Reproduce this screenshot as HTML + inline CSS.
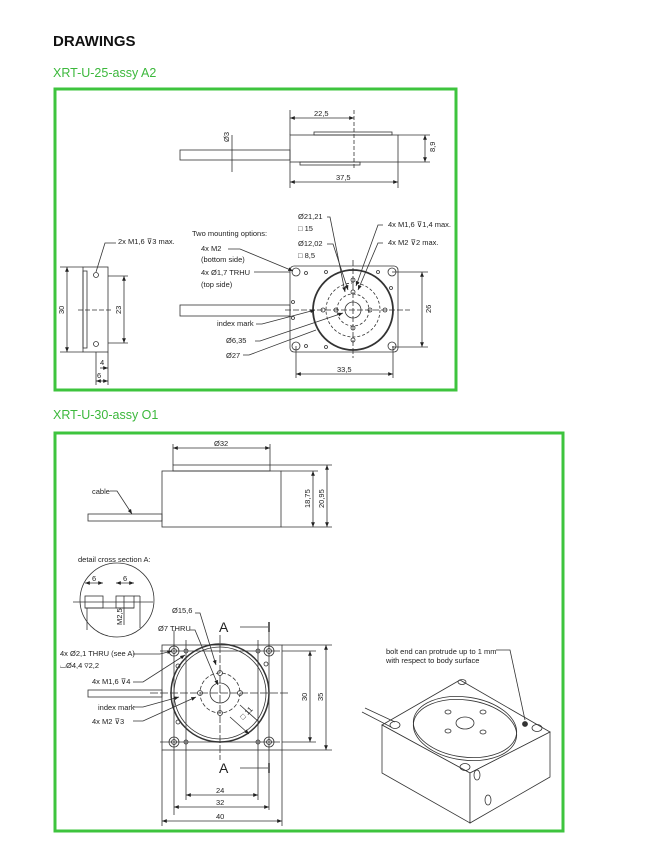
<!DOCTYPE html>
<html><head><meta charset="utf-8"><style>
html,body{margin:0;padding:0;background:#fff;}
svg{display:block;font-family:"Liberation Sans",sans-serif;}
</style></head><body>
<svg width="662" height="858" viewBox="0 0 662 858" xmlns="http://www.w3.org/2000/svg">
<defs>
<marker id="a" viewBox="0 0 10 10" refX="10" refY="5" markerWidth="6" markerHeight="6" orient="auto-start-reverse"><path d="M0,1 L10,5 L0,9z" fill="#222"/></marker>
</defs>
<text x="53" y="46" font-size="15" font-weight="bold" fill="#111">DRAWINGS</text>
<text x="53" y="77" font-size="12.5" fill="#3cb83c">XRT-U-25-assy A2</text>
<text x="53" y="419" font-size="12.5" fill="#3cb83c">XRT-U-30-assy O1</text>
<rect x="55" y="89" width="401" height="301" fill="none" stroke="#3ec43e" stroke-width="3"/>
<rect x="55" y="433" width="508" height="398" fill="none" stroke="#3ec43e" stroke-width="3"/>

<g stroke="#333" stroke-width="0.8" fill="none" font-size="7" >
<!-- Box1 top side view -->
<rect x="180" y="150" width="110" height="10"/>
<rect x="290" y="135" width="108" height="27"/>
<rect x="314" y="132" width="78" height="3"/>
<rect x="300" y="162" width="60" height="3"/>
<line x1="290" y1="118" x2="354" y2="118" marker-start="url(#a)" marker-end="url(#a)"/>
<line x1="290" y1="110" x2="290" y2="135"/><line x1="354" y1="110" x2="354" y2="170" stroke-dasharray="4 2"/>
<line x1="290" y1="182" x2="398" y2="182" marker-start="url(#a)" marker-end="url(#a)"/>
<line x1="398" y1="162" x2="398" y2="188"/><line x1="290" y1="162" x2="290" y2="188"/>
<line x1="425" y1="135" x2="425" y2="162" marker-start="url(#a)" marker-end="url(#a)"/>
<line x1="398" y1="135" x2="430" y2="135"/><line x1="398" y1="162" x2="430" y2="162"/>
<line x1="232" y1="135" x2="232" y2="172"/>
<!-- Box1 left view -->
<rect x="83" y="267" width="25" height="85"/>
<rect x="83" y="271" width="4" height="77"/>
<circle cx="96" cy="275" r="2.5"/><circle cx="96" cy="344" r="2.5"/>
<line x1="67" y1="267" x2="67" y2="352" marker-start="url(#a)" marker-end="url(#a)"/>
<line x1="60" y1="267" x2="83" y2="267"/><line x1="60" y1="352" x2="83" y2="352"/>
<line x1="124" y1="276" x2="124" y2="343" marker-start="url(#a)" marker-end="url(#a)"/>
<line x1="108" y1="276" x2="128" y2="276"/><line x1="108" y1="343" x2="128" y2="343"/>
<line x1="78" y1="310" x2="112" y2="310" stroke-dasharray="5 2"/>
<line x1="96" y1="352" x2="96" y2="385"/><line x1="108" y1="352" x2="108" y2="385"/>
<line x1="96" y1="381" x2="108" y2="381" marker-start="url(#a)" marker-end="url(#a)"/>
<line x1="100" y1="368" x2="108" y2="368" marker-end="url(#a)"/>
<polyline points="96,272 105,243 116,243"/>
<!-- Box1 front -->
<rect x="180" y="305" width="110" height="11"/>
<rect x="290" y="266" width="108" height="86" rx="4"/>
<circle cx="353" cy="310" r="40" stroke-width="1.8"/>
<circle cx="353" cy="310" r="27" stroke-dasharray="3 2"/>
<circle cx="353" cy="310" r="16" stroke-dasharray="3 2"/>
<circle cx="353" cy="310" r="8"/>
<circle cx="296" cy="272" r="4"/><circle cx="392" cy="272" r="4"/><circle cx="296" cy="346" r="4"/><circle cx="392" cy="346" r="4"/>
<circle cx="353" cy="280" r="2"/><circle cx="353" cy="292" r="2"/><circle cx="353" cy="328" r="2"/><circle cx="353" cy="340" r="2"/>
<circle cx="323" cy="310" r="2"/><circle cx="336" cy="310" r="2"/><circle cx="370" cy="310" r="2"/><circle cx="385" cy="310" r="2"/>
<circle cx="306" cy="273" r="1.5"/><circle cx="326" cy="272" r="1.5"/><circle cx="378" cy="272" r="1.5"/><circle cx="306" cy="346" r="1.5"/><circle cx="326" cy="347" r="1.5"/><circle cx="293" cy="302" r="1.5"/><circle cx="293" cy="318" r="1.5"/><circle cx="391" cy="288" r="1.5"/>
<line x1="285" y1="310" x2="410" y2="310" stroke-dasharray="6 2"/>
<line x1="353" y1="260" x2="353" y2="358" stroke-dasharray="6 2"/>
<line x1="422" y1="272" x2="422" y2="347" marker-start="url(#a)" marker-end="url(#a)"/>
<line x1="392" y1="272" x2="428" y2="272"/><line x1="392" y1="347" x2="428" y2="347"/>
<line x1="296" y1="374" x2="393" y2="374" marker-start="url(#a)" marker-end="url(#a)"/>
<line x1="296" y1="346" x2="296" y2="378"/><line x1="393" y1="346" x2="393" y2="378"/>
<polyline points="327,217 330,217 345,292" marker-end="url(#a)"/>
<polyline points="327,244 333,244 348,290" marker-end="url(#a)"/>
<polyline points="383,225 378,225 356,286" marker-end="url(#a)"/>
<polyline points="383,243 378,243 358,290" marker-end="url(#a)"/>
<polyline points="228,249 240,249 293,271" marker-end="url(#a)"/>
<line x1="254" y1="272" x2="290" y2="272"/>
<polyline points="256,324 262,324 315,310" marker-end="url(#a)"/>
<polyline points="255,341 260,341 343,313" marker-end="url(#a)"/>
<polyline points="243,355 249,355 316,330"/>

<!-- Box2 side -->
<rect x="162" y="471" width="119" height="56"/>
<rect x="173" y="465" width="97" height="6"/>
<rect x="88" y="514" width="74" height="7"/>
<line x1="173" y1="448" x2="270" y2="448" marker-start="url(#a)" marker-end="url(#a)"/>
<line x1="173" y1="444" x2="173" y2="465"/><line x1="270" y1="444" x2="270" y2="465"/>
<line x1="313" y1="471" x2="313" y2="527" marker-start="url(#a)" marker-end="url(#a)"/>
<line x1="327" y1="465" x2="327" y2="527" marker-start="url(#a)" marker-end="url(#a)"/>
<line x1="281" y1="471" x2="318" y2="471"/><line x1="270" y1="465" x2="332" y2="465"/><line x1="281" y1="527" x2="332" y2="527"/>
<polyline points="110,491 117,491 132,514" marker-end="url(#a)"/>
<!-- detail circle -->
<circle cx="117" cy="600" r="37"/>
<line x1="73" y1="602" x2="153" y2="602"/>
<rect x="85" y="596" width="18" height="12"/><rect x="116" y="596" width="18" height="12"/>
<line x1="85" y1="608" x2="134" y2="608"/><line x1="87" y1="608" x2="87" y2="630"/><line x1="134" y1="596" x2="140" y2="596"/><line x1="140" y1="596" x2="140" y2="628"/>
<line x1="85" y1="583" x2="103" y2="583" marker-start="url(#a)" marker-end="url(#a)"/>
<line x1="116" y1="583" x2="134" y2="583" marker-start="url(#a)" marker-end="url(#a)"/>
<line x1="124" y1="596" x2="124" y2="625"/>
<!-- Box2 front -->
<rect x="162" y="645" width="120" height="105"/>
<rect x="88" y="690" width="74" height="7"/>
<circle cx="220" cy="693" r="49" stroke-width="1.5"/>
<circle cx="220" cy="693" r="46"/>
<circle cx="220" cy="693" r="20" stroke-dasharray="4 2"/>
<circle cx="220" cy="693" r="10"/>
<circle cx="220" cy="673" r="2.5"/><circle cx="220" cy="713" r="2.5"/><circle cx="200" cy="693" r="2.5"/><circle cx="240" cy="693" r="2.5"/>
<circle cx="174" cy="651" r="5"/><circle cx="174" cy="651" r="2.5"/><circle cx="269" cy="651" r="5"/><circle cx="269" cy="651" r="2.5"/>
<circle cx="174" cy="742" r="5"/><circle cx="174" cy="742" r="2.5"/><circle cx="269" cy="742" r="5"/><circle cx="269" cy="742" r="2.5"/>
<circle cx="186" cy="651" r="2"/><circle cx="258" cy="651" r="2"/><circle cx="186" cy="742" r="2"/><circle cx="258" cy="742" r="2"/>
<circle cx="178" cy="666" r="2"/><circle cx="266" cy="664" r="2"/><circle cx="178" cy="722" r="2"/>
<line x1="150" y1="693" x2="290" y2="693" stroke-dasharray="8 2"/>
<line x1="220" y1="635" x2="220" y2="760" stroke-dasharray="8 2"/>
<line x1="174" y1="630" x2="174" y2="815"/><line x1="269" y1="630" x2="269" y2="810"/>
<line x1="186" y1="640" x2="186" y2="800"/><line x1="258" y1="640" x2="258" y2="800"/>
<line x1="160" y1="651" x2="280" y2="651"/><line x1="160" y1="742" x2="280" y2="742"/>
<line x1="310" y1="651" x2="310" y2="742" marker-start="url(#a)" marker-end="url(#a)"/>
<line x1="282" y1="651" x2="316" y2="651"/><line x1="282" y1="742" x2="316" y2="742"/>
<line x1="326" y1="645" x2="326" y2="750" marker-start="url(#a)" marker-end="url(#a)"/>
<line x1="282" y1="645" x2="332" y2="645"/><line x1="282" y1="750" x2="332" y2="750"/>
<line x1="186" y1="795" x2="258" y2="795" marker-start="url(#a)" marker-end="url(#a)"/>
<line x1="174" y1="807" x2="269" y2="807" marker-start="url(#a)" marker-end="url(#a)"/>
<line x1="162" y1="821" x2="282" y2="821" marker-start="url(#a)" marker-end="url(#a)"/>
<line x1="162" y1="750" x2="162" y2="826"/><line x1="282" y1="750" x2="282" y2="826"/>
<line x1="240" y1="627" x2="268" y2="627"/><line x1="240" y1="768" x2="268" y2="768"/>
<line x1="269" y1="622" x2="269" y2="632" stroke-width="1.5"/><line x1="269" y1="763" x2="269" y2="773" stroke-width="1.5"/>
<polyline points="195,613 200,613 216,665" marker-end="url(#a)"/>
<polyline points="190,630 195,630 218,685" marker-end="url(#a)"/>
<polyline points="133,654 160,654 172,651" marker-end="url(#a)"/>
<polyline points="133,682 143,682 185,655" marker-end="url(#a)"/>
<polyline points="133,707 143,707 179,697" marker-end="url(#a)"/>
<polyline points="133,721 143,721 196,697" marker-end="url(#a)"/>
<line x1="240" y1="705" x2="259" y2="722"/><line x1="230" y1="717" x2="249" y2="734" marker-end="url(#a)"/>

<!-- Photo -->
<polygon points="382,725 460,680 550,732 470,773" fill="#fff"/>
<polygon points="382,725 470,773 470,823 382,773" fill="#fff"/>
<polygon points="470,773 550,732 550,777 470,823" fill="#fff"/>
<ellipse cx="465" cy="727" rx="52" ry="30" transform="rotate(8 465 727)"/>
<ellipse cx="465" cy="730" rx="52" ry="30" transform="rotate(8 465 730)"/>
<ellipse cx="465" cy="723" rx="9" ry="6"/>
<ellipse cx="448" cy="712" rx="3" ry="2"/><ellipse cx="483" cy="712" rx="3" ry="2"/><ellipse cx="448" cy="731" rx="3" ry="2"/><ellipse cx="483" cy="732" rx="3" ry="2"/>
<ellipse cx="395" cy="725" rx="5" ry="3.5"/><ellipse cx="465" cy="767" rx="5" ry="3.5"/><ellipse cx="537" cy="728" rx="5" ry="3.5"/><ellipse cx="462" cy="682" rx="4" ry="2.5"/>
<ellipse cx="477" cy="775" rx="3" ry="5"/><ellipse cx="488" cy="800" rx="3" ry="5"/>
<line x1="365" y1="708" x2="395" y2="722"/><line x1="362" y1="712" x2="391" y2="727"/>
<polyline points="496,650 510,650 525,720"/>
<circle cx="525" cy="724" r="2.5" fill="#333"/>
</g>

<g font-size="7.5" fill="#222">
<text x="314" y="116">22,5</text><text x="336" y="180">37,5</text>
<text x="229" y="142" transform="rotate(-90 229 142)">Ø3</text>
<text x="435" y="152" transform="rotate(-90 435 152)">8,9</text>
<text x="64" y="314" transform="rotate(-90 64 314)">30</text>
<text x="121" y="314" transform="rotate(-90 121 314)">23</text>
<text x="100" y="365">4</text><text x="97" y="378">6</text>
<text x="118" y="244">2x  M1,6  ⊽3 max.</text>
<text x="192" y="236">Two mounting options:</text>
<text x="201" y="251">4x  M2</text><text x="201" y="262">(bottom side)</text>
<text x="201" y="275">4x  Ø1,7  TRHU</text><text x="201" y="287">(top side)</text>
<text x="217" y="326">index mark</text>
<text x="226" y="343">Ø6,35</text><text x="226" y="358">Ø27</text>
<text x="298" y="219">Ø21,21</text><text x="298" y="231">□ 15</text>
<text x="298" y="246">Ø12,02</text><text x="298" y="258">□ 8,5</text>
<text x="388" y="227">4x  M1,6  ⊽1,4 max.</text>
<text x="388" y="245">4x  M2  ⊽2 max.</text>
<text x="431" y="313" transform="rotate(-90 431 313)">26</text>
<text x="337" y="372">33,5</text>
<text x="214" y="446">Ø32</text>
<text x="92" y="494">cable</text>
<text x="310" y="508" transform="rotate(-90 310 508)">18,75</text>
<text x="324" y="508" transform="rotate(-90 324 508)">20,95</text>
<text x="78" y="562">detail cross section A:</text>
<text x="92" y="581">6</text><text x="123" y="581">6</text>
<text x="122" y="625" transform="rotate(-90 122 625)">M2,5</text>
<text x="172" y="613">Ø15,6</text><text x="158" y="631">Ø7  THRU</text>
<text x="60" y="656">4x  Ø2,1  THRU (see A)</text>
<text x="60" y="668">⌴Ø4,4 ⊽2,2</text>
<text x="92" y="684">4x  M1,6  ⊽4</text>
<text x="98" y="710">index mark</text>
<text x="92" y="724">4x  M2  ⊽3</text>
<text x="307" y="701" transform="rotate(-90 307 701)">30</text>
<text x="323" y="701" transform="rotate(-90 323 701)">35</text>
<text x="216" y="793">24</text><text x="216" y="805">32</text><text x="216" y="819">40</text>
<text x="243" y="720" transform="rotate(-45 243 720)">□ 11</text>
<text x="386" y="654">bolt end can protrude up to 1 mm</text>
<text x="386" y="663">with respect to body surface</text>
</g>
<text x="219" y="632" font-size="14" fill="#222">A</text>
<text x="219" y="773" font-size="14" fill="#222">A</text>
</svg>
</body></html>
